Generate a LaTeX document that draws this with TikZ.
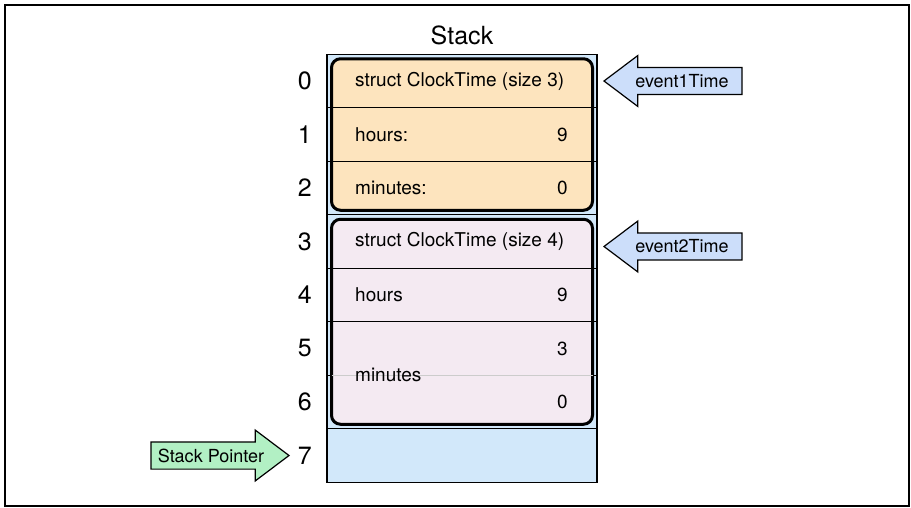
\documentclass[tikz,border=0pt]{standalone}
\usepackage{fontspec}
\setmainfont{TeX Gyre Heros}
\usepackage{xcolor}
\usetikzlibrary{positioning, fit, shapes.arrows}

\definecolor{stackblue}{RGB}{210,232,250}
\definecolor{structorange}{RGB}{253,228,190}
\definecolor{structpink}{RGB}{244,234,242}
\definecolor{ptrblue}{RGB}{204,222,250}
\definecolor{ptrgreen}{RGB}{178,240,196}

\begin{document}
\begin{tikzpicture}[x=1pt, y=-1pt,
    cell/.style={draw, fill=stackblue, line width=1.2pt, minimum width=270pt, minimum height=53.5pt, outer sep=0pt, inner sep=0pt},
    idx/.style={font=\fontsize{25}{28}\selectfont, inner sep=0pt},
    field/.style={font=\fontsize{19}{22}\selectfont, inner sep=0pt},
    structbox/.style={draw, line width=3pt, rounded corners=9pt, inner sep=-4.5pt},
    ptr/.style={single arrow, draw, line width=1.2pt, single arrow head extend=10.5pt, single arrow tip angle=74,
        minimum width=51pt, minimum height=138pt, inner xsep=2pt, inner ysep=4.5pt, font=\fontsize{18}{20}\selectfont}]

    \useasboundingbox (0,0) rectangle (911,507);
    \draw[line width=2.5pt] (5,5) rectangle (909,506);

    % Stack cells and their indices
    \node (c0) [cell] at (462,81) {};
    \foreach \i [remember=\i as \j (initially 0)] in {1,...,7}
        \node (c\i) [cell, below=0pt of c\j] {};
    \foreach \i in {0,...,7}
        \node (n\i) [idx, left=15pt of c\i] {\i};
    \node (title) [font=\fontsize{25}{28}\selectfont, above=6pt of c0] {Stack};

    % The two structs
    \node (s1) [structbox, fill=structorange, fit=(c0) (c2)] {};
    \node (s2) [structbox, fill=structpink, fit=(c3) (c6)] {};
    \foreach \i in {0,1,3,4}
        \draw[line width=1.2pt] (c\i.south west) -- (c\i.south east);
    \draw[gray!40, line width=1pt, shorten <=1.5pt, shorten >=1.5pt] (s2.west |- c5.south) -- (s2.east |- c5.south);

    % Fields
    \node (t1) [field, right=28pt of c0.west] {struct ClockTime (size 3)};
    \node (h1) [field, right=28pt of c1.west] {hours:};
    \node (hv1) [field, left=29pt of c1.east] {9};
    \node (m1) [field, right=28pt of c2.west] {minutes:};
    \node (mv1) [field, left=29pt of c2.east] {0};
    \node (t2) [field, right=28pt of c3.west] {struct ClockTime (size 4)};
    \node (h2) [field, right=28pt of c4.west] {hours};
    \node (hv2) [field, left=29pt of c4.east] {9};
    \node (mv2a) [field, left=29pt of c5.east] {3};
    \node (m2) [field, right=28pt of c5.south west] {minutes};
    \node (mv2b) [field, left=29pt of c6.east] {0};

    % Pointers
    \node (ev1) [ptr, fill=ptrblue, shape border rotate=180, right=6pt of c0.east, anchor=tip] {event1Time};
    \node (ev2) [ptr, fill=ptrblue, shape border rotate=180, right=6pt of c3.east, anchor=tip, yshift=-5pt] {event2Time};
    \node (sp) [ptr, fill=ptrgreen, left=37pt of c7.west, anchor=tip] {Stack Pointer};
\end{tikzpicture}
\end{document}
